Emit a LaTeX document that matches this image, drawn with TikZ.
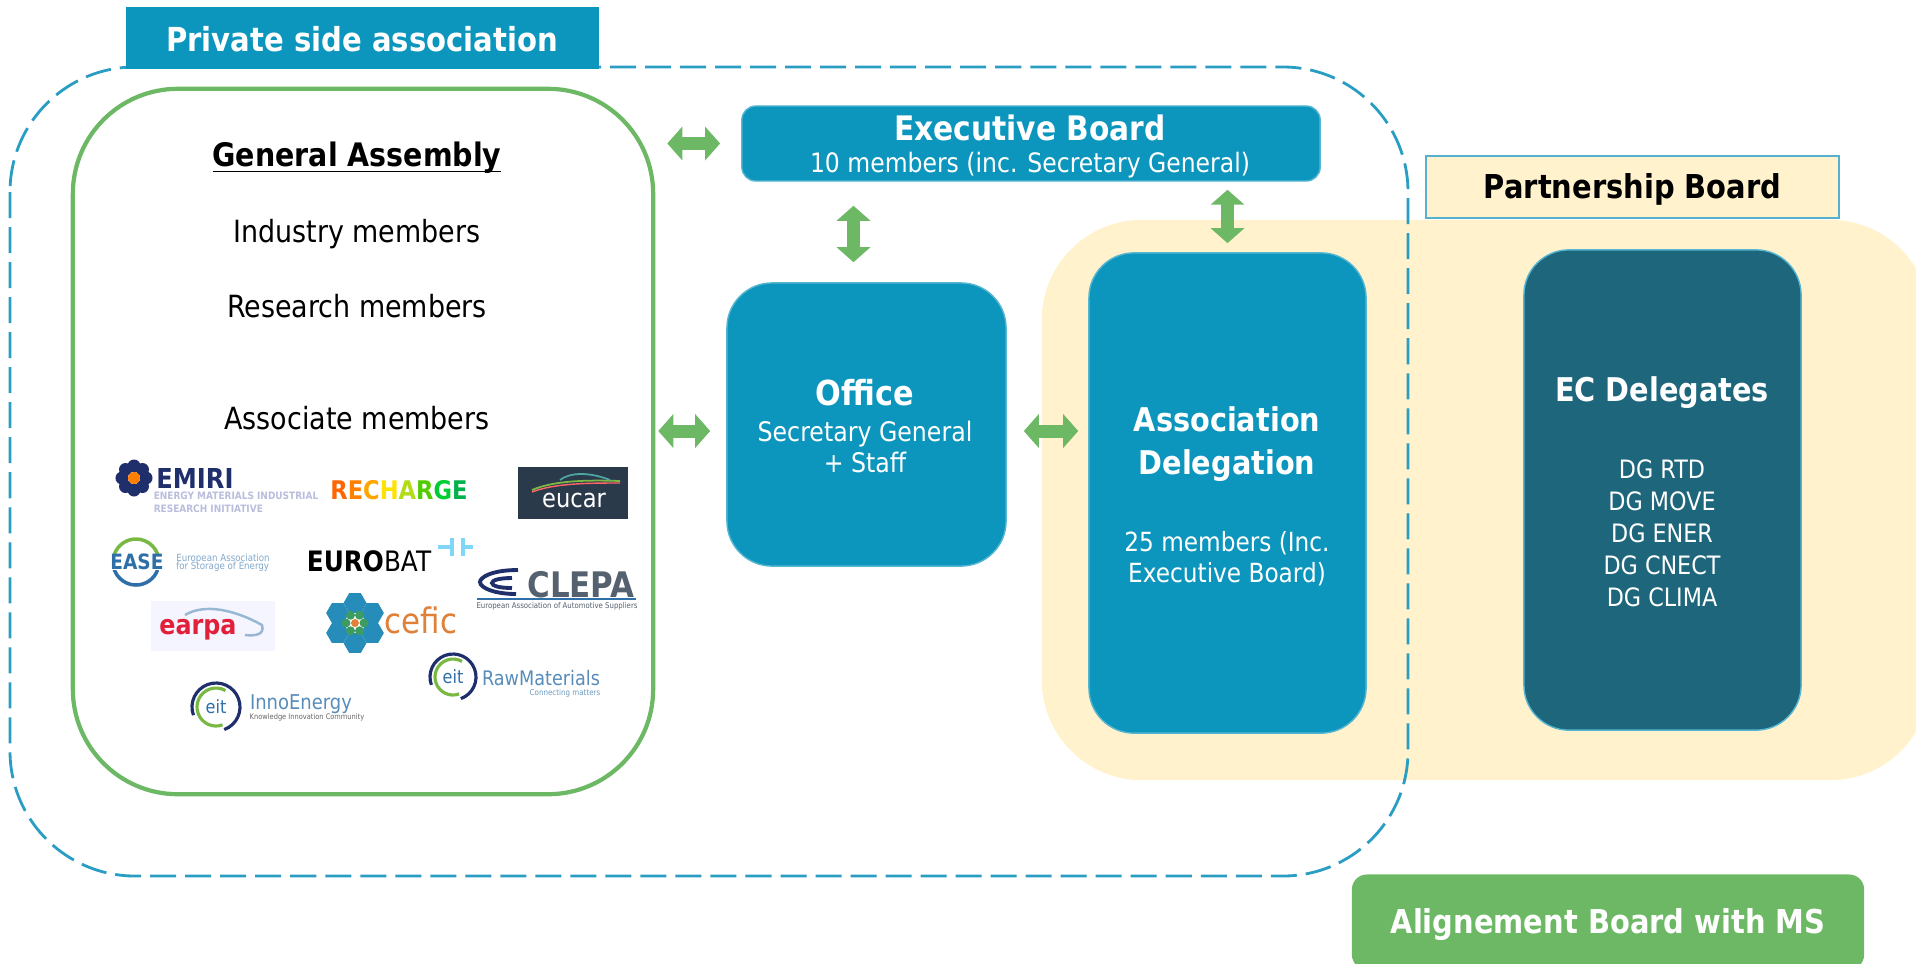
\documentclass[tikz,border=0pt]{standalone}
\usepackage{fontspec}
\setmainfont{DejaVu Sans}[FakeStretch=0.88]
\usetikzlibrary{arrows.meta,shapes.geometric}
\definecolor{assocblue}{HTML}{0D96BD}
\definecolor{ecteal}{HTML}{1E667B}
\definecolor{boardcream}{HTML}{FFF2CC}
\definecolor{linkgreen}{HTML}{6DB865}
\definecolor{dashblue}{HTML}{2A9DC2}
\definecolor{navy}{HTML}{1F2F6B}
\definecolor{logoblue}{HTML}{2F6FA8}
\definecolor{logolight}{HTML}{B9BEDD}
\definecolor{logogreen}{HTML}{79B943}
\definecolor{eucargrey}{HTML}{2B3A4A}
\definecolor{earpared}{HTML}{E2203A}
\definecolor{ceficorange}{HTML}{E0813A}
\newcommand{\fsz}[1]{\fontsize{#1}{\dimexpr #1pt*12/10\relax}\selectfont}
\tikzset{
  box/.style={rounded corners=#1, inner sep=0pt, align=center},
  bluebox/.style={box=#1, fill=assocblue, draw=assocblue!70!white},
  bigtxt/.style={text=white, font=\bfseries\fsz{#1}},
  smalltxt/.style={text=white, font=\fsz{#1}},
  link/.style={{Triangle[length=0.15cm,width=0.33cm]}-{Triangle[length=0.15cm,width=0.33cm]},
    line width=0.13cm, linkgreen},
  logo/.style={inner sep=0pt, align=left},
}
\begin{document}
\begin{tikzpicture}[x=0.01cm, y=-0.01cm, >=stealth]
\useasboundingbox (0,0) rectangle (1916,963);
\clip (0,0) rectangle (1916,963);
% partnership background
\node[box=1cm, fill=boardcream, minimum width=8.88cm, minimum height=5.6cm] (partner) at (1486,500) {};
% private side
\draw[dashblue, line width=0.8pt, dash pattern=on 0.26cm off 0.09cm, rounded corners=1.25cm] (10,67) rectangle (1408,876);
\node[box=0cm, fill=assocblue, minimum width=4.73cm, minimum height=0.62cm] (private) at (362.5,38) {};
\node[bigtxt=9.4] (privatetxt) at (362,39) {Private side association};
\node[box=1.05cm, draw=linkgreen, line width=1.2pt, fill=white, minimum width=5.8cm, minimum height=7.05cm] (assembly) at (363,441.5) {};
\node[font=\bfseries\fsz{9.2}] (title) at (357,158) {\underline{\vphantom{A}\smash{General Assembly}}};
\node[font=\fsz{8.7}] (industry) at (357,234) {Industry members};
\node[font=\fsz{8.7}] (research) at (357,306) {Research members};
\node[font=\fsz{8.7}] (associate) at (357,418) {Associate members};
% boards
\node[bluebox=0.14cm, minimum width=5.78cm, minimum height=0.75cm] (exec) at (1031,143.5) {};
\node[bigtxt=9.6] (exectitle) at (1030,128) {Executive Board};
\node[smalltxt=7.6] (execsub) at (1030,165) {10 members (inc. Secretary General)};
\node[bluebox=0.45cm, minimum width=2.79cm, minimum height=2.83cm] (office) at (866.5,424.5) {};
\node[bigtxt=9.8] (officetitle) at (865,393) {Office};
\node[smalltxt=7.65, align=center] (officesub) at (865,447) {Secretary General\\[-0.2pt]+ Staff};
\node[bluebox=0.45cm, minimum width=2.77cm, minimum height=4.8cm] (deleg) at (1227.5,493) {};
\node[bigtxt=9.3, align=center] (delegtitle) at (1227,444) {Association\\[1pt]Delegation};
\node[smalltxt=7.5, align=center] (delegsub) at (1227,559) {25 members (Inc.\\[-0.2pt]Executive Board)};
\node[box=0.45cm, fill=ecteal, draw=assocblue!70!white, minimum width=2.77cm, minimum height=4.8cm] (ec) at (1662.5,490) {};
\node[bigtxt=9.3] (ectitle) at (1662,393) {EC Delegates};
\node[smalltxt=7.2, align=center] (dgs) at (1662,533) {DG RTD\\[0.45pt]DG MOVE\\[0.45pt]DG ENER\\[0.45pt]DG CNECT\\[0.45pt]DG CLIMA};
\node[box=0cm, fill=boardcream, draw=dashblue!80!white, minimum width=4.13cm, minimum height=0.62cm] (pboard) at (1632.5,187) {};
\node[font=\bfseries\fsz{9.35}] (pboardtxt) at (1632.5,189) {Partnership Board};
\node[box=0.15cm, fill=linkgreen, minimum width=5.12cm, minimum height=0.95cm] (align) at (1608,922) {};
\node[bigtxt=9.35] (aligntxt) at (1608,925) {Alignement Board with MS};
% links
\draw[link, shorten <=0.12cm, shorten >=0.21cm] (assembly.east |- exec.west) -- (exec.west);
\draw[link, shorten <=0.03cm, shorten >=0.16cm] (assembly.east |- 0,431) -- (office.west |- 0,431);
\draw[link, shorten <=0.17cm, shorten >=0.1cm] (office.east |- 0,431) -- (deleg.west |- 0,431);
\draw[link, shorten <=0.2cm, shorten >=0.24cm] ([xshift=-0.13cm]office.north) -- ([xshift=-0.13cm]office.north |- exec.south);
\draw[link, shorten <=0.09cm, shorten >=0.08cm] (deleg.north) -- (deleg.north |- exec.south);
% logos
\foreach \i in {0,45,...,315}
  \node[circle, fill=navy, minimum size=0.13cm, inner sep=0pt] (petal\i) at ([shift={(\i:0.12cm)}]134,478) {};
\node[circle, fill=orange, minimum size=0.12cm, inner sep=0pt] (emiriheart) at (134,478) {};
\node[logo, text=navy, font=\bfseries\fsz{7.8}] (emiri) at (195,478) {EMIRI};
\node[logo, text=logolight, font=\bfseries\fsz{2.9}] (emirisub) at (236,502.5) {ENERGY MATERIALS INDUSTRIAL\\[0.3pt]RESEARCH INITIATIVE};
\node[logo, font=\bfseries\fsz{7.3}] (recharge) at (399,490) {\textcolor{orange!80!red}{R}\textcolor{orange}{E}\textcolor{orange!70!yellow}{C}\textcolor{yellow!85!orange}{H}\textcolor{yellow!70!green}{A}\textcolor{green!60!yellow!80!black}{R}\textcolor{green!60!teal}{G}\textcolor{teal!60!green}{E}};
\node[fill=eucargrey, minimum width=1.1cm, minimum height=0.52cm, inner sep=0pt] (eucar) at (573,493) {};
\node[logo, text=white, font=\fsz{7.3}] (eucartxt) at (574,500) {eucar};
\draw[logogreen, line width=0.5pt] (532,490) .. controls (555,480) and (590,480) .. (620,481);
\draw[red!60!white, line width=0.4pt] (532,492) .. controls (555,483) and (590,483) .. (620,483);
\draw[teal!70!white, line width=0.5pt] (560,480) .. controls (570,472) and (590,472) .. (610,480);
\draw[logoblue, line width=1pt] (113,562) arc (180:20:23);
\draw[logogreen, line width=1pt] (159,562) arc (0:-160:23);
\node[logo, fill=white, text=logoblue, font=\bfseries\fsz{6}] (ease) at (137,562) {EASE};
\node[logo, text=logoblue!60!white, font=\fsz{2.8}] (easesub) at (223,562.5) {European Association\\[-1pt]for Storage of Energy};
\node[logo, font=\fsz{8}] (eurobat) at (369,561) {\textbf{EURO}BAT};
\draw[cyan!50!white, line width=1pt] (438,547) -- (452,547) (452,538) -- (452,556) (463,538) -- (463,556) (463,547) -- (473,547);
\draw[navy, line width=1.1pt] (518,570) .. controls (490,570) and (480,578) .. (480,582) .. controls (480,588) and (495,594) .. (516,594);
\draw[navy, line width=1.1pt] (512,578) .. controls (500,578) and (492,580) .. (492,583) .. controls (492,586) and (500,588) .. (512,588);
\node[logo, text=eucargrey!80!white, font=\bfseries\fsz{10}] (clepa) at (581,585) {CLEPA};
\draw[logoblue, line width=0.5pt] (477,599) -- (636,599);
\node[logo, text=eucargrey!80!white, font=\fsz{2.25}] (clepasub) at (557,606) {European Association of Automotive Suppliers};
\node[fill=blue!4!white, minimum width=1.24cm, minimum height=0.5cm, inner sep=0pt] (earpa) at (213,626) {};
\node[logo, text=earpared, font=\bfseries\fsz{7.7}] (earpatxt) at (198,630) {earpa};
\draw[logoblue!50!white, line width=0.7pt] (185,615) .. controls (205,603) and (235,610) .. (262,625) .. controls (265,635) and (255,636) .. (245,635);
\foreach \a in {30,90,...,330}
  \node[regular polygon, regular polygon sides=6, fill=logoblue!80!cyan, minimum size=0.23cm, inner sep=0pt] (hex\a) at ([shift={(\a:0.2cm)}]355,623) {};
\foreach \a in {0,60,...,300}
  \node[circle, fill=teal!50!logogreen, minimum size=0.09cm, inner sep=0pt] (core\a) at ([shift={(\a:0.09cm)}]355,623) {};
\node[circle, fill=ceficorange, minimum size=0.08cm, inner sep=0pt] (heart) at (355,623) {};
\node[logo, text=ceficorange, font=\fsz{10}] (cefic) at (421,620) {cefic};
\draw[navy, line width=0.9pt] (453,677) ++(70:23) arc (70:-200:23);
\draw[logogreen, line width=0.9pt] (453,677) ++(70:18) arc (70:300:18);
\node[logo, text=logoblue, font=\fsz{5.2}] (eitraw) at (453,677) {eit};
\node[logo, text=logoblue!80!white, font=\fsz{5.7}] (raw) at (541,678) {RawMaterials};
\node[logo, text=logoblue!70!white, font=\fsz{2.3}] (rawsub) at (565,693) {Connecting matters};
\draw[navy, line width=0.9pt] (216,707) ++(70:24) arc (70:-200:24);
\draw[logogreen, line width=0.9pt] (216,707) ++(70:19) arc (70:300:19);
\node[logo, text=logoblue, font=\fsz{5.2}] (eitinno) at (216,707) {eit};
\node[logo, text=logoblue!80!white, font=\fsz{5.8}] (inno) at (301,704) {InnoEnergy};
\node[logo, text=black!60!white, font=\fsz{2.15}] (innosub) at (307,717) {Knowledge Innovation Community};
\end{tikzpicture}
\end{document}
